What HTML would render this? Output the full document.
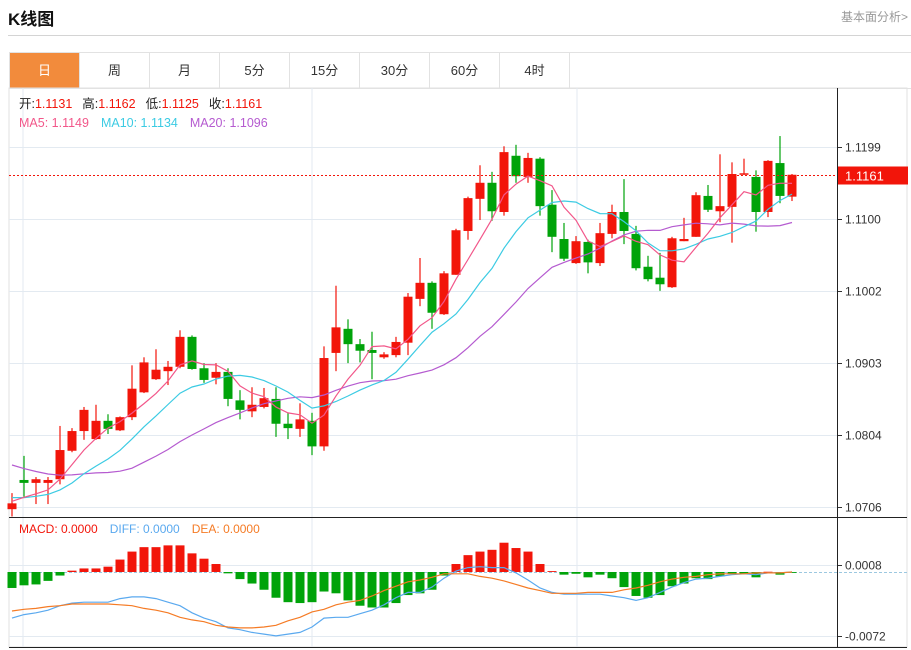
<!DOCTYPE html>
<html><head><meta charset="utf-8"><style>
body{margin:0;width:911px;height:650px;background:#fff;font-family:"Liberation Sans","Noto Sans CJK SC",sans-serif;overflow:hidden;position:relative}
.title{position:absolute;left:8px;top:5px;font-size:17px;font-weight:bold;color:#111}
.more{position:absolute;right:3px;top:8px;font-size:12px;color:#999}
.hr{position:absolute;left:8px;right:0;top:35px;height:1px;background:#d4d4d4}
.tabs{position:absolute;left:9px;top:52px;width:901px;height:35px;border:1px solid #e2e2e2;border-bottom:1px solid #e2e2e2;display:flex}
.tab{width:70px;height:35px;line-height:35px;text-align:center;font-size:13px;color:#333;border-right:1px solid #e2e2e2;box-sizing:border-box}
.tab.on{background:#f28b3c;color:#fff}
svg{position:absolute;left:0;top:0}
</style></head><body>
<div class="title">K线图</div>
<div class="more">基本面分析&gt;</div>
<div class="hr"></div>
<div class="tabs">
<div class="tab on">日</div>
<div class="tab">周</div>
<div class="tab">月</div>
<div class="tab">5分</div>
<div class="tab">15分</div>
<div class="tab">30分</div>
<div class="tab">60分</div>
<div class="tab">4时</div>
</div>
<svg id="chart" width="911" height="650"></svg>
<script>
const priorCloses=[1.0837,1.0822,1.0812,1.0817,1.0802,1.0810,1.0797,1.0804,1.0792,1.0787,1.0740,1.0725,1.0718,1.0722,1.0715,1.0712,1.0720,1.0716,1.0710];
const opens=[1.0703,1.0743,1.0739,1.0739,1.0744,1.0783,1.0810,1.0799,1.0824,1.0811,1.0829,1.0863,1.0881,1.0892,1.0898,1.0939,1.0896,1.0883,1.0891,1.0852,1.0837,1.0843,1.0854,1.0820,1.0813,1.0824,1.0789,1.0917,1.0950,1.0929,1.0921,1.0911,1.0914,1.0931,1.0991,1.1013,1.0970,1.1024,1.1084,1.1128,1.1150,1.1110,1.1187,1.1158,1.1183,1.1120,1.1073,1.1040,1.1069,1.1040,1.1080,1.1110,1.1080,1.1035,1.1020,1.1007,1.1070,1.1076,1.1132,1.1111,1.1117,1.1161,1.1158,1.1110,1.1177,1.1131];
const closes=[1.0711,1.0739,1.0744,1.0743,1.0784,1.0810,1.0839,1.0824,1.0813,1.0829,1.0868,1.0904,1.0894,1.0898,1.0939,1.0895,1.0880,1.0891,1.0854,1.0839,1.0846,1.0855,1.0820,1.0814,1.0826,1.0789,1.0910,1.0952,1.0929,1.0920,1.0917,1.0915,1.0932,1.0994,1.1013,1.0972,1.1026,1.1085,1.1129,1.1150,1.1111,1.1192,1.1159,1.1184,1.1118,1.1076,1.1046,1.1070,1.1041,1.1081,1.1110,1.1084,1.1033,1.1018,1.1011,1.1074,1.1073,1.1133,1.1113,1.1118,1.1162,1.1163,1.1110,1.1180,1.1132,1.1161];
const highs=[1.0725,1.0776,1.0747,1.0747,1.0817,1.0814,1.0843,1.0846,1.0833,1.0830,1.0900,1.0911,1.0922,1.0906,1.0948,1.0941,1.0903,1.0903,1.0896,1.0866,1.0870,1.0869,1.0870,1.0835,1.0848,1.0835,1.0926,1.1009,1.0963,1.0936,1.0946,1.0918,1.0939,1.0999,1.1047,1.1015,1.1029,1.1087,1.1131,1.1174,1.1165,1.1200,1.1202,1.1191,1.1185,1.1140,1.1095,1.1077,1.1072,1.1095,1.1120,1.1155,1.1091,1.1050,1.1054,1.1076,1.1102,1.1137,1.1147,1.1189,1.1178,1.1183,1.1167,1.1181,1.1214,1.1162];
const lows=[1.0693,1.0720,1.0710,1.0710,1.0737,1.0781,1.0798,1.0798,1.0806,1.0810,1.0825,1.0862,1.0880,1.0873,1.0896,1.0894,1.0876,1.0874,1.0844,1.0826,1.0829,1.0841,1.0802,1.0799,1.0802,1.0777,1.0783,1.0892,1.0903,1.0904,1.0881,1.0909,1.0911,1.0914,1.0981,1.0950,1.0969,1.1024,1.1072,1.1099,1.1098,1.1105,1.1150,1.1150,1.1105,1.1055,1.1043,1.1039,1.1026,1.1036,1.1074,1.1066,1.1030,1.1015,1.1002,1.1006,1.1070,1.1076,1.1110,1.1096,1.1068,1.1161,1.1083,1.1103,1.1122,1.1125];
const priceTicks=[1.1199,1.1100,1.1002,1.0903,1.0804,1.0706];
const macdHist=[-0.0018,-0.0015,-0.0014,-0.0010,-0.0004,0.00015,0.0004,0.0004,0.0006,0.0014,0.0023,0.0028,0.0028,0.0030,0.0030,0.0021,0.0015,0.0009,-0.00015,-0.0008,-0.0013,-0.0020,-0.0029,-0.0034,-0.0035,-0.0034,-0.0022,-0.0024,-0.0032,-0.0038,-0.0040,-0.0040,-0.0035,-0.0026,-0.0024,-0.0020,-0.0004,0.0009,0.0019,0.0023,0.0025,0.0033,0.0027,0.0023,0.0009,0.0001,-0.0003,-0.0002,-0.0006,-0.0003,-0.0007,-0.0017,-0.0027,-0.0029,-0.0026,-0.0016,-0.0013,-0.0007,-0.0008,-0.0005,-0.0002,-0.0002,-0.0006,0.00003,-0.0003,-0.0001];
const diffVals=[-0.0052,-0.0048,-0.0046,-0.0043,-0.0038,-0.0035,-0.0034,-0.0034,-0.0034,-0.0030,-0.0028,-0.0028,-0.0030,-0.0034,-0.0038,-0.0046,-0.0052,-0.0056,-0.0063,-0.0065,-0.0068,-0.0070,-0.0072,-0.0070,-0.0068,-0.0062,-0.0052,-0.0051,-0.0051,-0.0047,-0.0043,-0.0037,-0.0029,-0.0023,-0.0023,-0.0017,-0.0007,0.0001,0.0005,0.0006,0.0005,0.0005,-0.0001,-0.0009,-0.0018,-0.0023,-0.0025,-0.0025,-0.0025,-0.0025,-0.0027,-0.0029,-0.0032,-0.0029,-0.0023,-0.0017,-0.0012,-0.0008,-0.0007,-0.0005,-0.0003,-0.0002,-0.0003,-0.0001,-0.0001,0];
const deaVals=[-0.0044,-0.0042,-0.0041,-0.0039,-0.0038,-0.0036,-0.0036,-0.0036,-0.0036,-0.0037,-0.0038,-0.0041,-0.0043,-0.0046,-0.0051,-0.0054,-0.0056,-0.0060,-0.0062,-0.0063,-0.0063,-0.0062,-0.0060,-0.0055,-0.0051,-0.0045,-0.0042,-0.0037,-0.0034,-0.0032,-0.0027,-0.0021,-0.0016,-0.0011,-0.0009,-0.0006,-0.0002,-0.0002,-0.0002,-0.0005,-0.0007,-0.0010,-0.0014,-0.0018,-0.0021,-0.0024,-0.0024,-0.0024,-0.0023,-0.0023,-0.0023,-0.0020,-0.0018,-0.0015,-0.0011,-0.0008,-0.0006,-0.0005,-0.0003,-0.0002,-0.0002,-0.0002,-0.0001,-0.0001,-0.0001,0];
const macdTicks=[0.0008,-0.0072];

const NS='http://www.w3.org/2000/svg';
const svg=document.getElementById('chart');
const RED='#f2150a',GREEN='#00a30a',GRID='#e3eaf1';
const L=9,R=837,T=88,B=517,MB=647;
function px(i){return 12+12*i;}
function py(p){return 147+(1.1199-p)*7302;}
function my(v){return 572-v*8875;}
function mk(tag,attrs,name){const e=document.createElementNS(NS,tag);for(const k in attrs)e.setAttribute(k,attrs[k]);


svg.appendChild(e);return e;}
function txt(x,y,s,fill,size,name,anchor){const e=mk('text',{x:x,y:y,fill:fill,'font-size':size,'font-family':'Liberation Sans, Noto Sans CJK SC, sans-serif','text-anchor':anchor||'start'},name);e.textContent=s;return e;}

// frame
mk('rect',{x:L,y:T,width:898,height:MB-T,fill:'none',stroke:'#e2e2e2'},'chart-frame');
// vertical grid
[23,312,577].forEach(x=>mk('line',{x1:x,y1:T,x2:x,y2:MB,stroke:GRID},'vertical-grid-line'));
// price grid and labels
priceTicks.forEach(p=>{const y=Math.round(py(p))+0.5;
mk('line',{x1:L,y1:y,x2:R,y2:y,stroke:GRID},'price-grid-line');
mk('line',{x1:R,y1:y,x2:R+5,y2:y,stroke:'#333'},'price-tick');
txt(R+8,y+4,p.toFixed(4),'#333',12,'price-tick-label');});
// macd grid
macdTicks.forEach(v=>{const y=Math.round(my(v))+0.5;
mk('line',{x1:L,y1:y,x2:R,y2:y,stroke:GRID},'macd-grid-line');
mk('line',{x1:R,y1:y,x2:R+5,y2:y,stroke:'#333'},'macd-tick');
txt(R+8,y+4,v.toFixed(4),'#333',12,'macd-tick-label');});
mk('line',{x1:L,y1:572.5,x2:R+70,y2:572.5,stroke:'#9cc8e0','stroke-dasharray':'3,2'},'macd-zero-line');
// axes
mk('line',{x1:R+0.5,y1:T,x2:R+0.5,y2:MB,stroke:'#222'},'right-axis');
mk('line',{x1:L,y1:B+0.5,x2:907,y2:B+0.5,stroke:'#222'},'panel-divider');
mk('line',{x1:L,y1:MB+0.5,x2:907,y2:MB+0.5,stroke:'#222'},'bottom-axis');

// candles
for(let i=0;i<opens.length;i++){const x=px(i),up=closes[i]>=opens[i],c=up?RED:GREEN;
mk('line',{x1:x,y1:py(highs[i]),x2:x,y2:py(lows[i]),stroke:c,'stroke-width':1.2},'candle-wick');
const y1=py(Math.max(opens[i],closes[i])),y2=py(Math.min(opens[i],closes[i]));
mk('rect',{x:x-4.5,y:y1,width:9,height:Math.max(1.5,y2-y1),fill:c},up?'candle-up':'candle-down');}
// MAs
const all=priorCloses.concat(closes);
function ma(n){const out=[];for(let i=0;i<closes.length;i++){const j=i+priorCloses.length;let s=0;for(let k=j-n+1;k<=j;k++)s+=all[k];out.push(s/n);}return out;}
function line(vals,fy,color,name){mk('polyline',{points:vals.map((v,i)=>px(i)+','+fy(v).toFixed(1)).join(' '),fill:'none',stroke:color,'stroke-width':1.2},name);}
line(ma(20),py,'#b55bd0','ma20-line');
line(ma(10),py,'#3ccbe3','ma10-line');
line(ma(5),py,'#f2578a','ma5-line');
// last price
const lastY=Math.round(py(closes[closes.length-1]))+0.5;
mk('line',{x1:L,y1:lastY,x2:R,y2:lastY,stroke:RED,'stroke-dasharray':'2,2'},'last-price-line');
mk('rect',{x:R+1,y:lastY-9,width:70,height:18,fill:RED},'last-price-tag');
txt(R+8,lastY+5,closes[closes.length-1].toFixed(4),'#fff',13,'last-price-label');

// MACD hist
for(let i=0;i<macdHist.length;i++){const v=macdHist[i],y=my(v),z=572;
mk('rect',{x:px(i)-4.5,y:Math.min(y,z),width:9,height:Math.max(0.8,Math.abs(y-z)),fill:v>=0?RED:GREEN},'macd-bar');}
line(diffVals,my,'#5aa9ef','diff-line');
line(deaVals,my,'#f57b25','dea-line');

// info text
let t=mk('text',{x:19,y:108,'font-size':12.5,'font-family':'Liberation Sans, Noto Sans CJK SC, sans-serif'},'ohlc-info');
t.innerHTML='<tspan fill="#222">开:</tspan><tspan fill="'+RED+'">1.1131</tspan><tspan fill="#222" dx="10">高:</tspan><tspan fill="'+RED+'">1.1162</tspan><tspan fill="#222" dx="10">低:</tspan><tspan fill="'+RED+'">1.1125</tspan><tspan fill="#222" dx="10">收:</tspan><tspan fill="'+RED+'">1.1161</tspan>';
let m=mk('text',{x:19,y:127,'font-size':12.5,'font-family':'Liberation Sans, sans-serif'},'ma-legend');
m.innerHTML='<tspan fill="#f2578a">MA5: 1.1149</tspan><tspan fill="#3ccbe3" dx="12">MA10: 1.1134</tspan><tspan fill="#b55bd0" dx="12">MA20: 1.1096</tspan>';
let d=mk('text',{x:19,y:533,'font-size':12,'font-family':'Liberation Sans, sans-serif'},'macd-legend');
d.innerHTML='<tspan fill="'+RED+'">MACD: 0.0000</tspan><tspan fill="#5aa9ef" dx="12">DIFF: 0.0000</tspan><tspan fill="#f57b25" dx="12">DEA: 0.0000</tspan>';
</script>
</body></html>
